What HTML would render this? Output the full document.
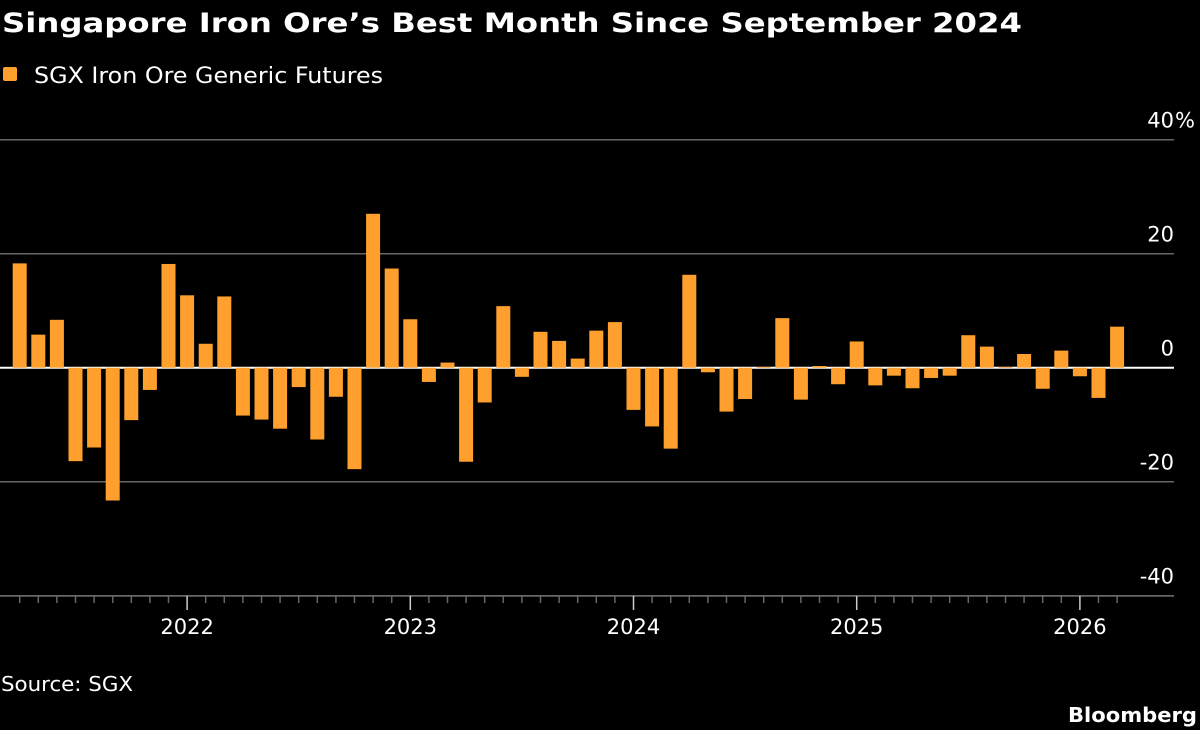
<!DOCTYPE html>
<html><head><meta charset="utf-8"><style>
html,body{margin:0;padding:0;background:#000;width:1200px;height:730px;overflow:hidden}
svg{display:block}
text{font-family:"DejaVu Sans","Liberation Sans",sans-serif;fill:#fff}
</style></head><body>
<svg id="chart" width="1200" height="730">
<text x="2" y="32" font-size="27" font-weight="bold" textLength="1020" lengthAdjust="spacingAndGlyphs">Singapore Iron Ore’s Best Month Since September 2024</text>
<rect x="3" y="67" width="14" height="14" rx="2" fill="#ffa02e"></rect>
<text x="34" y="83" font-size="22" textLength="349" lengthAdjust="spacingAndGlyphs">SGX Iron Ore Generic Futures</text>
<g id="grid"></g><g id="bars"></g><g id="xaxis"></g>
<text x="1" y="691" font-size="20" textLength="132" lengthAdjust="spacingAndGlyphs">Source: SGX</text>
<text x="1068" y="722" font-size="20" font-weight="bold" textLength="129" lengthAdjust="spacingAndGlyphs">Bloomberg</text>
</svg>
<script>
const startYear = 2021, startMonth = 3; // April 2021 (0-based month)
const values = [18.3,5.8,8.4,-16.4,-14.0,-23.3,-9.2,-3.9,18.2,
12.7,4.2,12.5,-8.4,-9.1,-10.7,-3.4,-12.6,-5.1,-17.8,27.0,17.4,
8.5,-2.5,0.9,-16.5,-6.1,10.8,-1.6,6.3,4.7,1.6,6.5,8.0,
-7.4,-10.3,-14.2,16.3,-0.8,-7.7,-5.5,0.1,8.7,-5.6,0.3,-2.9,
4.6,-3.1,-1.4,-3.6,-1.8,-1.4,5.7,3.7,0.1,2.4,-3.7,3.0,
-1.5,-5.3,7.2];
const yTicks = [40,20,0,-20,-40];
const yearLabels = [2022,2023,2024,2025,2026];
const NS = "http://www.w3.org/2000/svg";
const y = v => 367.7 - v * 5.7;
const x = i => 19.7 + i * 18.6;
function mk(tag, attrs, parent){const e=document.createElementNS(NS,tag);for(const k in attrs)e.setAttribute(k,attrs[k]);parent.appendChild(e);return e;}
const grid = document.getElementById('grid');
yTicks.forEach(t=>{
  const ln = mk('line',{x1:0,x2:1174,y1:y(t),y2:y(t),stroke:t===0?'#fff':'#666','stroke-width':t===0?2:1.5},grid);
  
  
  const tx = mk('text',{x:1174,y:y(t)-12,'font-size':21,'text-anchor':'end'},grid);
  tx.textContent = String(t);
  
  
  if(t===40){const p=mk('text',{x:1175,y:y(t)-12,'font-size':21},grid);p.textContent='%';
    
    }
});
const bars = document.getElementById('bars');
values.forEach((v,i)=>{
  const r = mk('rect',{x:x(i)-7,width:14,y:Math.min(y(v),y(0)),height:Math.max(0.8,Math.abs(y(v)-y(0))),fill:'#ffa02e'},bars);
  
  
});
const xa = document.getElementById('xaxis');
const nMonths = values.length;
const base = mk('line',{x1:0,x2:1174,y1:596,y2:596,stroke:'#666','stroke-width':1.5},xa);


for(let i=0;i<nMonths;i++){
  const m = (startMonth+i)%12;
  const tk = mk('line',{x1:x(i),x2:x(i),y1:596,y2:m===0?610:603,stroke:m===0?'#ccc':'#666','stroke-width':1.5},xa);
  
  
}
yearLabels.forEach(yr=>{
  const i = (yr-startYear)*12 - startMonth;
  const tx = mk('text',{x:x(i),y:634,'font-size':21,'text-anchor':'middle'},xa);
  tx.textContent = String(yr);
  
  
});
</script>
</body></html>
